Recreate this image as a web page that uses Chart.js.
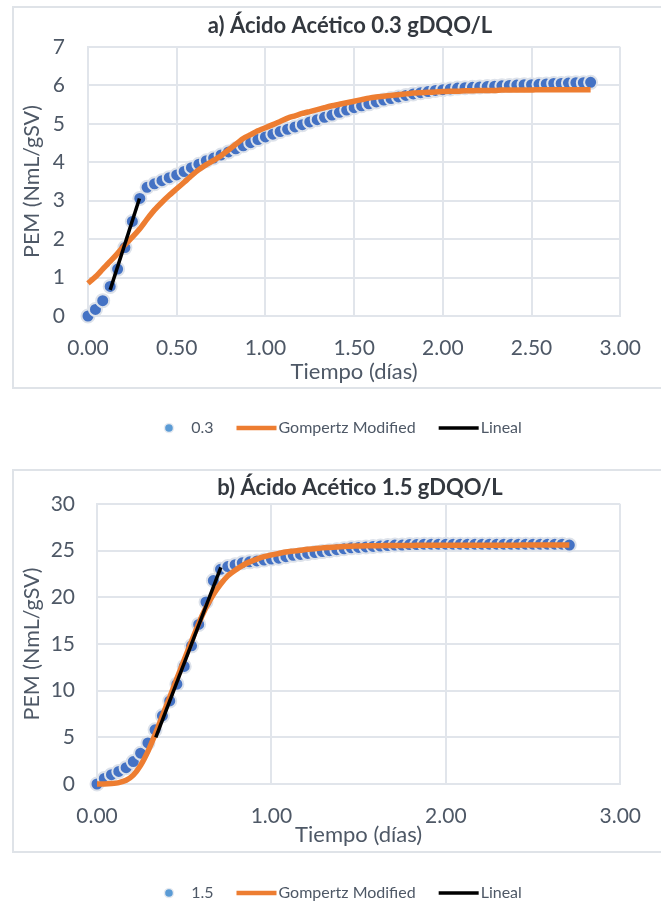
<!DOCTYPE html>
<html><head><meta charset="utf-8">
<script src="https://cdn.jsdelivr.net/npm/chart.js@4.4.0/dist/chart.umd.min.js"></script>
<style>
html,body{margin:0;padding:0;background:#fff;width:661px;height:903px;overflow:hidden;position:relative;}
.frame{position:absolute;border:2px solid #dfe3e8;box-sizing:border-box;}
.wrap{position:absolute;left:0;width:661px;}
canvas{position:absolute;left:0;top:0;}
</style></head><body>
<div class="frame" style="left:12px;top:6px;width:680px;height:383px"></div>
<div class="frame" style="left:12px;top:469px;width:680px;height:384px"></div>
<div class="wrap" style="top:0;height:450px"><canvas id="cA" width="661" height="450"></canvas></div>
<div class="wrap" style="top:460px;height:443px"><canvas id="cB" width="661" height="443"></canvas></div>
<script>
// ---------- Data: chart a) 0.3 gDQO/L ----------
const timeA = [0,0.042,0.083,0.125,0.167,0.208,0.25,0.292,0.333,0.375,0.417,0.458,0.5,0.542,0.583,0.625,0.667,0.708,0.75,0.792,0.833,0.875,0.917,0.958,1,1.042,1.083,1.125,1.167,1.208,1.25,1.292,1.333,1.375,1.417,1.458,1.5,1.542,1.583,1.625,1.667,1.708,1.75,1.792,1.833,1.875,1.917,1.958,2,2.042,2.083,2.125,2.167,2.208,2.25,2.292,2.333,2.375,2.417,2.458,2.5,2.542,2.583,2.625,2.667,2.708,2.75,2.792,2.833];
const pemA = [0,0.17,0.40,0.77,1.22,1.78,2.46,3.06,3.35,3.44,3.52,3.60,3.67,3.76,3.86,3.95,4.04,4.11,4.19,4.27,4.35,4.43,4.51,4.59,4.66,4.73,4.80,4.86,4.92,4.98,5.05,5.11,5.17,5.23,5.30,5.36,5.42,5.47,5.52,5.57,5.62,5.66,5.70,5.74,5.78,5.81,5.84,5.87,5.89,5.91,5.93,5.94,5.95,5.96,5.97,5.98,5.99,6.00,6.01,6.02,6.02,6.03,6.04,6.05,6.05,6.06,6.07,6.07,6.08];
const gompA = [0.85,1.02,1.22,1.42,1.63,1.85,2.05,2.27,2.52,2.76,2.96,3.14,3.31,3.48,3.65,3.81,3.94,4.05,4.17,4.32,4.47,4.62,4.72,4.82,4.90,4.98,5.06,5.15,5.21,5.27,5.32,5.37,5.42,5.47,5.51,5.55,5.59,5.63,5.67,5.70,5.72,5.74,5.76,5.78,5.80,5.81,5.82,5.83,5.84,5.85,5.85,5.86,5.86,5.87,5.87,5.87,5.88,5.88,5.88,5.88,5.88,5.89,5.89,5.89,5.89,5.89,5.89,5.89,5.89];
const linealAx = [0.125, 0.29];
const linealAy = [0.68, 3.06];

// ---------- Data: chart b) 1.5 gDQO/L ----------
const timeB = [0,0.042,0.083,0.125,0.167,0.208,0.25,0.292,0.333,0.375,0.417,0.458,0.5,0.542,0.583,0.625,0.667,0.708,0.75,0.792,0.833,0.875,0.917,0.958,1,1.042,1.083,1.125,1.167,1.208,1.25,1.292,1.333,1.375,1.417,1.458,1.5,1.542,1.583,1.625,1.667,1.708,1.75,1.792,1.833,1.875,1.917,1.958,2,2.042,2.083,2.125,2.167,2.208,2.25,2.292,2.333,2.375,2.417,2.458,2.5,2.542,2.583,2.625,2.667,2.708];
const pemB = [0,0.6,1.0,1.35,1.75,2.4,3.3,4.4,5.8,7.3,8.9,10.7,12.6,14.8,17.1,19.5,21.8,23.0,23.3,23.5,23.7,23.8,23.9,24.0,24.1,24.2,24.35,24.5,24.6,24.7,24.8,24.9,25.0,25.1,25.2,25.3,25.35,25.4,25.45,25.5,25.55,25.6,25.6,25.65,25.65,25.7,25.7,25.7,25.7,25.7,25.7,25.7,25.7,25.7,25.7,25.7,25.7,25.7,25.7,25.7,25.7,25.7,25.7,25.7,25.7,25.6];
const gompB = [0,0,0.05,0.15,0.4,0.95,2.0,3.5,5.3,7.3,9.3,11.3,13.3,15.3,17.2,18.9,20.3,21.4,22.3,22.9,23.4,23.8,24.1,24.35,24.55,24.7,24.85,24.95,25.05,25.15,25.2,25.3,25.35,25.4,25.45,25.48,25.5,25.52,25.53,25.54,25.55,25.55,25.56,25.56,25.57,25.57,25.57,25.58,25.58,25.58,25.58,25.58,25.59,25.59,25.59,25.59,25.59,25.59,25.59,25.6,25.6,25.6,25.6,25.6,25.6,25.6];
const linealBx = [0.337, 0.71];
const linealBy = [5.0, 23.2];

// ---------- Text ----------
const titleA = 'a) Ácido Acético 0.3 gDQO/L';
const titleB = 'b) Ácido Acético 1.5 gDQO/L';
const seriesA = '0.3', seriesB = '1.5';
const gompLabel = 'Gompertz Modified', linLabel = 'Lineal';
const xTitle = 'Tiempo (días)', yTitle = 'PEM (NmL/gSV)';

const FONT = 'Lato';
const TICK_COLOR = '#4e5866';
const GRID = '#e1e5eb';

const pts = (xs, ys) => xs.map((x, i) => ({x, y: ys[i]}));

const titlePlugin = {
  id: 'customTitle',
  afterDraw(chart, args, o) {
    const ctx = chart.ctx;
    ctx.save();
    ctx.font = 'bold ' + o.size + 'px ' + FONT;
    ctx.fillStyle = o.color;
    ctx.textAlign = 'center';
    ctx.textBaseline = 'middle';
    ctx.fillText(o.text, o.x, o.y);
    ctx.restore();
  }
};

const legendPlugin = {
  id: 'customLegend',
  afterDraw(chart, args, o) {
    const ctx = chart.ctx;
    ctx.save();
    ctx.font = o.size + 'px ' + FONT;
    ctx.textBaseline = 'middle';
    ctx.textAlign = 'left';
    const items = chart.data.datasets.map(ds => ({
      label: ds.label, line: !!ds.showLine,
      color: ds.showLine ? ds.borderColor : o.dotColor,
      lw: ds.showLine ? (ds.legendLineWidth || 3) : 0
    }));
    const widths = items.map(it => (it.line ? o.lineLen + o.lineGap : o.dotGap) + ctx.measureText(it.label).width);
    const total = widths.reduce((a, b) => a + b, 0) + o.itemGap * (items.length - 1);
    let x = o.centerX - total / 2;
    const y = o.y;
    items.forEach((it, i) => {
      if (it.line) {
        ctx.strokeStyle = it.color; ctx.lineWidth = it.lw; ctx.lineCap = 'butt';
        ctx.beginPath(); ctx.moveTo(x, y); ctx.lineTo(x + o.lineLen, y); ctx.stroke();
        ctx.fillStyle = o.color;
        ctx.fillText(it.label, x + o.lineLen + o.lineGap, y);
      } else {
        ctx.fillStyle = '#e6eaf0';
        ctx.beginPath(); ctx.arc(x + o.dotR + 1, y, o.dotR + 1.5, 0, Math.PI * 2); ctx.fill();
        ctx.fillStyle = it.color;
        ctx.beginPath(); ctx.arc(x + o.dotR + 1, y, o.dotR, 0, Math.PI * 2); ctx.fill();
        ctx.fillStyle = o.color;
        ctx.fillText(it.label, x + o.dotGap, y);
      }
      x += widths[i] + o.itemGap;
    });
    ctx.restore();
  }
};

function makeChart(id, c) {
  return new Chart(document.getElementById(id), {
    type: 'scatter',
    data: {
      datasets: [
        { label: c.series, data: pts(c.t, c.pem), order: 3, clip: false,
          backgroundColor: '#4472C4', borderColor: '#dde2ea', borderWidth: 2,
          pointRadius: 6.5, pointHoverRadius: 6.5 },
        { label: gompLabel, data: pts(c.t, c.gomp), order: 2, showLine: true, clip: false,
          borderColor: '#ED7D31', borderWidth: 5.5, pointRadius: 0, tension: 0.2,
          legendLineWidth: 4.5 },
        { label: linLabel, data: pts(c.lx, c.ly), order: 1, showLine: true, clip: false,
          borderColor: '#000000', borderWidth: 3.5, pointRadius: 0, tension: 0,
          legendLineWidth: 3.5 }
      ]
    },
    options: {
      responsive: false, animation: false, events: [],
      layout: { padding: { left: 0, top: c.padTop, right: c.padRight, bottom: c.padBottom } },
      plugins: {
        legend: { display: false }, tooltip: { enabled: false }, title: { display: false },
        customTitle: { text: c.title, x: c.titleX, y: c.titleY, size: 22, color: '#33383f' },
        customLegend: { y: c.legendY, centerX: 343, size: 16, color: '#4e5866',
          dotColor: '#5b9bd5', dotR: 3.8, dotGap: 27, lineLen: 40, lineGap: 2, itemGap: 23 }
      },
      scales: {
        x: { type: 'linear', min: 0, max: 3,
          ticks: { stepSize: c.xStep, padding: 20, color: TICK_COLOR,
            font: { family: FONT, size: 21 }, callback: v => Number(v).toFixed(2) },
          grid: { color: GRID, lineWidth: 2, drawTicks: false },
          border: { color: GRID, width: 2 },
          title: { display: true, text: xTitle, color: TICK_COLOR,
            font: { family: FONT, size: 22 }, padding: { top: 0, bottom: c.xTitlePad } },
          afterFit: s => { s.height = c.xAxisH; } },
        y: { min: 0, max: c.yMax,
          ticks: { stepSize: c.yStep, padding: c.yTickPad, color: TICK_COLOR,
            font: { family: FONT, size: 21 } },
          grid: { color: GRID, lineWidth: 2, drawTicks: false },
          border: { color: GRID, width: 2 },
          title: { display: true, text: yTitle, color: TICK_COLOR,
            font: { family: FONT, size: 21.5 }, padding: { top: 19, bottom: 0 } },
          afterFit: s => { s.width = c.yAxisW; } }
      }
    },
    plugins: [titlePlugin, legendPlugin]
  });
}

makeChart('cA', { series: seriesA, t: timeA, pem: pemA, gomp: gompA, lx: linealAx, ly: linealAy,
  title: titleA, titleX: 350, titleY: 26, padTop: 47, padRight: 25, padBottom: 62, xAxisH: 72, xTitlePad: 3,
  xStep: 0.5, yMax: 7, yStep: 1, yTickPad: 23, yAxisW: 88, legendY: 428 });

makeChart('cB', { series: seriesB, t: timeB, pem: pemB, gomp: gompB, lx: linealBx, ly: linealBy,
  title: titleB, titleX: 360, titleY: 28, padTop: 44, padRight: 32, padBottom: 51, xAxisH: 68, xTitlePad: 4,
  xStep: 1, yMax: 30, yStep: 5, yTickPad: 22, yAxisW: 97, legendY: 433 });
</script>
</body></html>
